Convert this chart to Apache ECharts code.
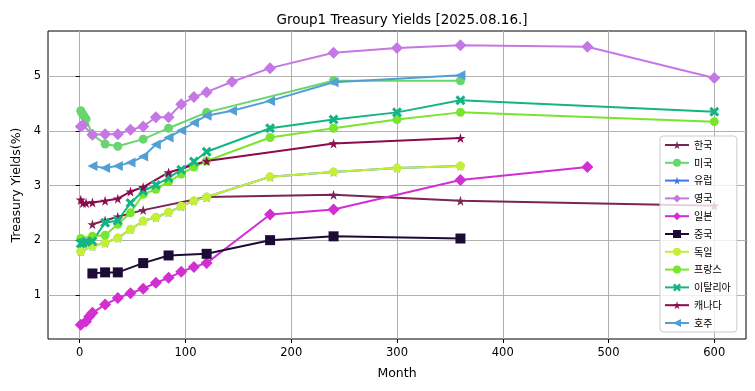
<!DOCTYPE html>
<html><head><meta charset="utf-8">
<script src="https://cdn.jsdelivr.net/npm/echarts@6/dist/echarts.min.js"></script>
<style>html,body{margin:0;padding:0;background:#fff}#c{width:755px;height:391px}</style>
</head><body><div id="c"></div>
<script>
// ---- data (months, yields %) ----
const xTicks = [0, 100, 200, 300, 400, 500, 600];
const yTicks = [1, 2, 3, 4, 5];

const krMonths = [12, 24, 36, 60, 120, 240, 360, 600];
const krYields = [2.29, 2.36, 2.43, 2.55, 2.79, 2.83, 2.72, 2.63];

const usMonths = [1, 2, 3, 4, 6, 12, 24, 36, 60, 84, 120, 240, 360];
const usYields = [4.37, 4.33, 4.30, 4.27, 4.22, 3.93, 3.76, 3.72, 3.85, 4.05, 4.34, 4.92, 4.92];

const euMonths = [1, 12, 24, 36, 48, 60, 72, 84, 96, 108, 120, 180, 240, 300, 360];
const euYields = [1.79, 1.89, 1.95, 2.04, 2.20, 2.35, 2.42, 2.51, 2.62, 2.72, 2.79, 3.16, 3.25, 3.32, 3.36];

const ukMonths = [1, 3, 12, 24, 36, 48, 60, 72, 84, 96, 108, 120, 144, 180, 240, 300, 360, 480, 600];
const ukYields = [4.08, 4.11, 3.93, 3.94, 3.94, 4.02, 4.08, 4.25, 4.25, 4.49, 4.62, 4.71, 4.90, 5.15, 5.43, 5.52, 5.57, 5.54, 4.97];

const jpMonths = [1, 6, 9, 12, 24, 36, 48, 60, 72, 84, 96, 108, 120, 180, 240, 360, 480];
const jpYields = [0.45, 0.51, 0.60, 0.67, 0.82, 0.94, 1.03, 1.11, 1.22, 1.31, 1.42, 1.51, 1.58, 2.47, 2.56, 3.10, 3.34];

const cnMonths = [12, 24, 36, 60, 84, 120, 180, 240, 360];
const cnYields = [1.39, 1.41, 1.41, 1.58, 1.72, 1.75, 2.00, 2.07, 2.03];

const deMonths = [1, 12, 24, 36, 48, 60, 72, 84, 96, 108, 120, 180, 240, 300, 360];
const deYields = [1.79, 1.89, 1.95, 2.04, 2.20, 2.35, 2.42, 2.51, 2.62, 2.72, 2.79, 3.16, 3.25, 3.32, 3.36];

const frMonths = [1, 12, 24, 36, 48, 60, 72, 84, 96, 108, 120, 180, 240, 300, 360, 600];
const frYields = [2.03, 2.07, 2.09, 2.29, 2.50, 2.84, 2.93, 3.07, 3.21, 3.34, 3.45, 3.88, 4.05, 4.21, 4.34, 4.17];

const itMonths = [1, 3, 6, 12, 24, 36, 48, 60, 72, 84, 96, 108, 120, 180, 240, 300, 360, 600];
const itYields = [1.94, 1.95, 1.97, 1.98, 2.32, 2.36, 2.68, 2.90, 3.01, 3.14, 3.29, 3.44, 3.62, 4.05, 4.21, 4.34, 4.56, 4.35];

const caMonths = [1, 3, 6, 12, 24, 36, 48, 60, 84, 120, 240, 360];
const caYields = [2.74, 2.68, 2.68, 2.69, 2.72, 2.76, 2.89, 2.97, 3.24, 3.45, 3.77, 3.87];

const auMonths = [12, 24, 36, 48, 60, 72, 84, 96, 108, 120, 144, 180, 240, 360];
const auYields = [3.36, 3.32, 3.36, 3.42, 3.53, 3.75, 3.88, 4.01, 4.15, 4.28, 4.37, 4.55, 4.89, 5.02];

// ---- styles ----
const STAR = 'path://M50,0 L61,35 L98,35 L68,57 L79,91 L50,70 L21,91 L32,57 L2,35 L39,35 Z';
const XFILL = 'path://M0,22 L22,0 L50,28 L78,0 L100,22 L72,50 L100,78 L78,100 L50,72 L22,100 L0,78 L28,50 Z';
const TRI_L = 'path://M0,50 L100,0 L100,100 Z';

const defs = [
  ['한국', krMonths, krYields, '#7a2553', STAR, 10],
  ['미국', usMonths, usYields, '#68d66c', 'circle', 9],
  ['유럽', euMonths, euYields, '#3b7be9', STAR, 10],
  ['영국', ukMonths, ukYields, '#c578e4', 'diamond', 12],
  ['일본', jpMonths, jpYields, '#d22fd3', 'diamond', 12],
  ['중국', cnMonths, cnYields, '#1d0a36', 'rect', 10],
  ['독일', deMonths, deYields, '#c3ee3a', 'circle', 9],
  ['프랑스', frMonths, frYields, '#79e52c', 'circle', 9],
  ['이탈리아', itMonths, itYields, '#13b585', XFILL, 10],
  ['캐나다', caMonths, caYields, '#8c0a50', STAR, 10],
  ['호주', auMonths, auYields, '#529fd5', TRI_L, 10]
];

const series = defs.map(([name, m, y, color, sym, size]) => ({
  name, type: 'line',
  data: m.map((v, i) => [v, y[i]]),
  symbol: sym, symbolSize: size, showSymbol: true,
  lineStyle: { color, width: 2 },
  itemStyle: { color, borderWidth: 0 },
  emphasis: { disabled: true },
  animation: false
}));

const chart = echarts.init(document.getElementById('c'), null, { renderer: 'canvas' });
const FONT = 'DejaVu Sans';
chart.setOption({
  backgroundColor: '#fff',
  animation: false,
  title: {
    text: 'Group1 Treasury Yields [2025.08.16.]',
    left: 397, top: 8, textAlign: 'center',
    textStyle: { fontFamily: FONT, fontSize: 13.5, fontWeight: 'normal', color: '#000' }
  },
  grid: { left: 48, right: 9, top: 31, bottom: 52, show: true, borderColor: '#000', borderWidth: 1, backgroundColor: 'transparent' },
  xAxis: {
    type: 'value', min: -30, max: 630,
    name: 'Month', nameLocation: 'middle', nameGap: 28,
    nameTextStyle: { fontFamily: FONT, fontSize: 12.5, color: '#000' },
    axisLine: { show: false },
    axisTick: { show: true, length: 4, inside: false, lineStyle: { color: '#000' }, customValues: xTicks },
    axisLabel: { fontFamily: FONT, fontSize: 11.5, color: '#000', margin: 8, customValues: xTicks },
    splitLine: { show: true, lineStyle: { color: '#b0b0b0', width: 1 } }
  },
  yAxis: {
    type: 'value', min: 0.19, max: 5.83,
    name: 'Treasury Yields(%)', nameLocation: 'middle', nameGap: 24,
    nameTextStyle: { fontFamily: FONT, fontSize: 12.5, color: '#000' },
    axisLine: { show: false },
    axisTick: { show: true, length: 4, lineStyle: { color: '#000' }, customValues: yTicks },
    axisLabel: { fontFamily: FONT, fontSize: 11.5, color: '#000', margin: 7, customValues: yTicks },
    splitLine: { show: true, lineStyle: { color: '#b0b0b0', width: 1 } }
  },
  legend: {
    orient: 'vertical', left: 660, top: 136,
    data: defs.map(d => d[0]),
    itemWidth: 24, itemHeight: 10, itemGap: 7.8,
    padding: [4, 6, 4, 4],
    backgroundColor: 'rgba(255,255,255,0.8)',
    borderColor: '#cccccc', borderWidth: 1, borderRadius: 3,
    textStyle: { fontFamily: 'Noto Sans CJK KR', fontSize: 10, color: '#000' }
  },
  series
});
</script></body></html>
